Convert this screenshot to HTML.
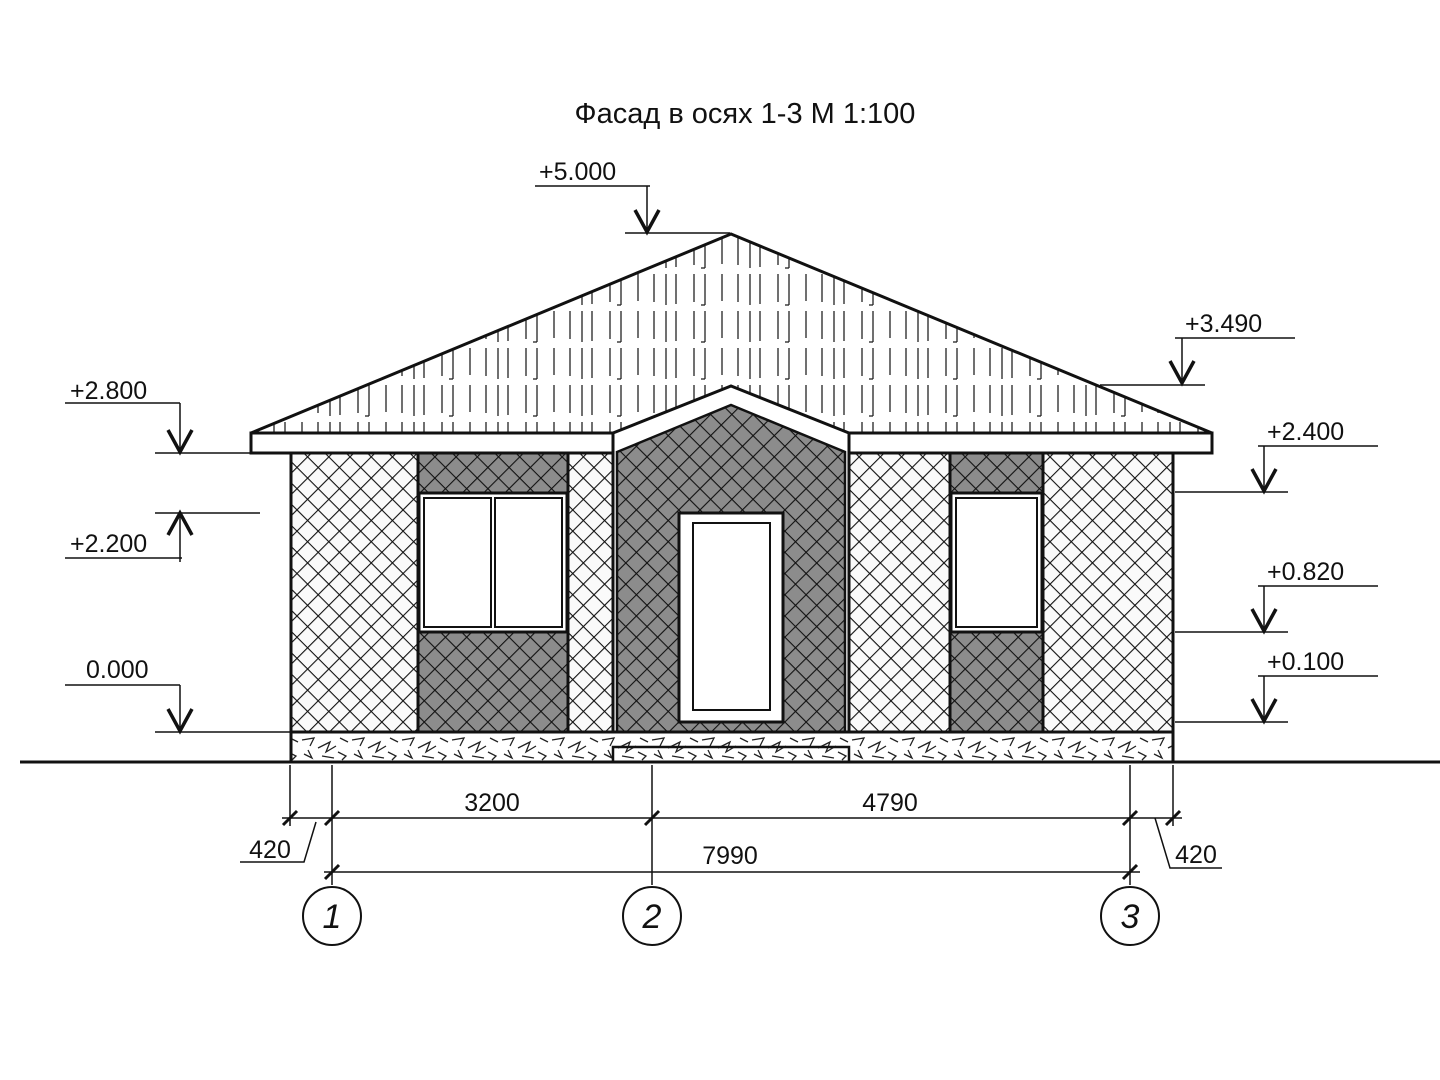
<!DOCTYPE html>
<html><head><meta charset="utf-8"><style>
html,body{margin:0;padding:0;background:#fff;}
svg{display:block;}
text{font-family:"Liberation Sans",sans-serif;fill:#111;}
</style></head><body>
<svg width="1440" height="1080" viewBox="0 0 1440 1080" xmlns="http://www.w3.org/2000/svg">
<defs>
<pattern id="hl" width="15" height="15" patternUnits="userSpaceOnUse" patternTransform="rotate(45)">
<rect width="15" height="15" fill="#fafafa"/>
<line x1="0" y1="0" x2="15" y2="0" stroke="#111" stroke-width="2.2"/>
<line x1="0" y1="0" x2="0" y2="15" stroke="#111" stroke-width="2.2"/>
</pattern>
<pattern id="hd" width="15" height="15" patternUnits="userSpaceOnUse" patternTransform="rotate(45)">
<rect width="15" height="15" fill="#8c8c8c"/>
<line x1="0" y1="0" x2="15" y2="0" stroke="#111" stroke-width="2.2"/>
<line x1="0" y1="0" x2="0" y2="15" stroke="#111" stroke-width="2.2"/>
</pattern>
<pattern id="roof" width="84" height="37" patternUnits="userSpaceOnUse" x="0" y="234">
<rect width="84" height="37" fill="#fff"/>
<g stroke="#222" stroke-width="1.3">
<line x1="4" y1="3" x2="4" y2="33"/><line x1="22" y1="3" x2="22" y2="31"/>
<line x1="33" y1="3" x2="33" y2="34"/><line x1="50" y1="3" x2="50" y2="30"/>
<line x1="66" y1="3" x2="66" y2="31"/><line x1="78" y1="3" x2="78" y2="34"/>
<line x1="29" y1="34" x2="33" y2="34"/>
</g>
</pattern>
<pattern id="stone" width="50" height="28" patternUnits="userSpaceOnUse" x="0" y="734">
<rect width="50" height="28" fill="#fff"/>
<g stroke="#222" stroke-width="1.3" fill="none">
<path d="M2 6 L14 4 L10 12"/><path d="M18 14 L30 8 L26 18 L36 12"/><path d="M40 4 L48 8"/>
<path d="M4 20 L12 24 L8 16"/><path d="M22 22 L34 24"/><path d="M38 18 L46 22 L42 26"/>
</g>
</pattern>
</defs>

<text x="745" y="123" font-size="29" text-anchor="middle">Фасад в осях 1-3 М 1:100</text>

<polygon points="251,433 731,234 1212,433" fill="url(#roof)" stroke="#111" stroke-width="3"/>
<rect x="251" y="433" width="961" height="20" fill="#fff" stroke="#111" stroke-width="3"/>

<rect x="291" y="453" width="127" height="279" fill="url(#hl)"/>
<rect x="418" y="453" width="150" height="279" fill="url(#hd)"/>
<rect x="568" y="453" width="45" height="279" fill="url(#hl)"/>
<rect x="849" y="453" width="101" height="279" fill="url(#hl)"/>
<rect x="950" y="453" width="93" height="279" fill="url(#hd)"/>
<rect x="1043" y="453" width="130" height="279" fill="url(#hl)"/>
<g stroke="#111" stroke-width="3" fill="none">
<rect x="291" y="453" width="882" height="279"/>
<line x1="418" y1="453" x2="418" y2="732"/><line x1="568" y1="453" x2="568" y2="732"/>
<line x1="950" y1="453" x2="950" y2="732"/><line x1="1043" y1="453" x2="1043" y2="732"/>
</g>
<polygon points="613,433 731,386 849,433 849,732 613,732" fill="#fff" stroke="#111" stroke-width="3"/>
<polygon points="617,452 731,405 845,452 845,732 617,732" fill="url(#hd)" stroke="#111" stroke-width="2.5"/>

<rect x="419" y="493" width="148" height="139" fill="#fff" stroke="#111" stroke-width="3"/>
<rect x="424" y="498" width="67" height="129" fill="#fff" stroke="#111" stroke-width="2"/>
<rect x="495" y="498" width="67" height="129" fill="#fff" stroke="#111" stroke-width="2"/>
<rect x="951" y="493" width="91" height="139" fill="#fff" stroke="#111" stroke-width="3"/>
<rect x="956" y="498" width="81" height="129" fill="#fff" stroke="#111" stroke-width="2"/>
<rect x="679" y="513" width="104" height="209" fill="#fff" stroke="#111" stroke-width="3"/>
<rect x="693" y="523" width="77" height="187" fill="#fff" stroke="#111" stroke-width="2"/>

<rect x="291" y="732" width="882" height="30" fill="url(#stone)" stroke="#111" stroke-width="3"/>
<rect x="613" y="747" width="236" height="15" fill="none" stroke="#111" stroke-width="2.5"/>

<line x1="20" y1="762" x2="1440" y2="762" stroke="#111" stroke-width="3"/>

<g stroke="#111" stroke-width="1.5" fill="none">
<line x1="535" y1="186" x2="650" y2="186"/><line x1="647" y1="186" x2="647" y2="232"/><line x1="625" y1="233" x2="730" y2="233"/>
<line x1="1175" y1="338" x2="1295" y2="338"/><line x1="1182" y1="338" x2="1182" y2="383"/><line x1="1100" y1="385" x2="1205" y2="385"/>
<line x1="65" y1="403" x2="180" y2="403"/><line x1="180" y1="403" x2="180" y2="452"/><line x1="155" y1="453" x2="250" y2="453"/>
<line x1="155" y1="513" x2="260" y2="513"/><line x1="180" y1="513" x2="180" y2="562"/><line x1="65" y1="558" x2="182" y2="558"/>
<line x1="65" y1="685" x2="180" y2="685"/><line x1="180" y1="685" x2="180" y2="731"/><line x1="155" y1="732" x2="290" y2="732"/>
<line x1="1258" y1="446" x2="1378" y2="446"/><line x1="1264" y1="446" x2="1264" y2="491"/><line x1="1175" y1="492" x2="1288" y2="492"/>
<line x1="1258" y1="586" x2="1378" y2="586"/><line x1="1264" y1="586" x2="1264" y2="631"/><line x1="1175" y1="632" x2="1288" y2="632"/>
<line x1="1258" y1="676" x2="1378" y2="676"/><line x1="1264" y1="676" x2="1264" y2="721"/><line x1="1175" y1="722" x2="1288" y2="722"/>
</g>
<g stroke="#111" stroke-width="3.5" fill="none">
<polyline points="635,210 647,232 659,210"/>
<polyline points="1170,361 1182,383 1194,361"/>
<polyline points="168,430 180,452 192,430"/>
<polyline points="168,535 180,513 192,535"/>
<polyline points="168,709 180,731 192,709"/>
<polyline points="1252,469 1264,491 1276,469"/>
<polyline points="1252,609 1264,631 1276,609"/>
<polyline points="1252,699 1264,721 1276,699"/>
</g>
<g font-size="25">
<text x="539" y="180">+5.000</text>
<text x="1185" y="332">+3.490</text>
<text x="70" y="399">+2.800</text>
<text x="70" y="552">+2.200</text>
<text x="86" y="678">0.000</text>
<text x="1267" y="440">+2.400</text>
<text x="1267" y="580">+0.820</text>
<text x="1267" y="670">+0.100</text>
</g>

<g stroke="#111" stroke-width="1.5" fill="none">
<line x1="290" y1="765" x2="290" y2="826"/>
<line x1="332" y1="765" x2="332" y2="885"/>
<line x1="652" y1="765" x2="652" y2="885"/>
<line x1="1130" y1="765" x2="1130" y2="885"/>
<line x1="1173" y1="765" x2="1173" y2="826"/>
<line x1="282" y1="818" x2="1182" y2="818"/>
<line x1="324" y1="872" x2="1140" y2="872"/>
<polyline points="316,822 304,862 240,862"/>
<polyline points="1155,818 1170,868 1222,868"/>
</g>
<g stroke="#111" stroke-width="3">
<line x1="283" y1="825" x2="297" y2="811"/><line x1="325" y1="825" x2="339" y2="811"/>
<line x1="645" y1="825" x2="659" y2="811"/><line x1="1123" y1="825" x2="1137" y2="811"/>
<line x1="1166" y1="825" x2="1180" y2="811"/>
<line x1="325" y1="879" x2="339" y2="865"/><line x1="1123" y1="879" x2="1137" y2="865"/>
</g>
<g font-size="25" text-anchor="middle">
<text x="492" y="811">3200</text>
<text x="890" y="811">4790</text>
<text x="730" y="864">7990</text>
<text x="270" y="858">420</text>
<text x="1196" y="863">420</text>
</g>
<g stroke="#111" stroke-width="2" fill="#fff">
<circle cx="332" cy="916" r="29"/><circle cx="652" cy="916" r="29"/><circle cx="1130" cy="916" r="29"/>
</g>
<g font-size="34" font-style="italic" text-anchor="middle">
<text x="332" y="928">1</text><text x="652" y="928">2</text><text x="1130" y="928">3</text>
</g>
</svg>
</body></html>
